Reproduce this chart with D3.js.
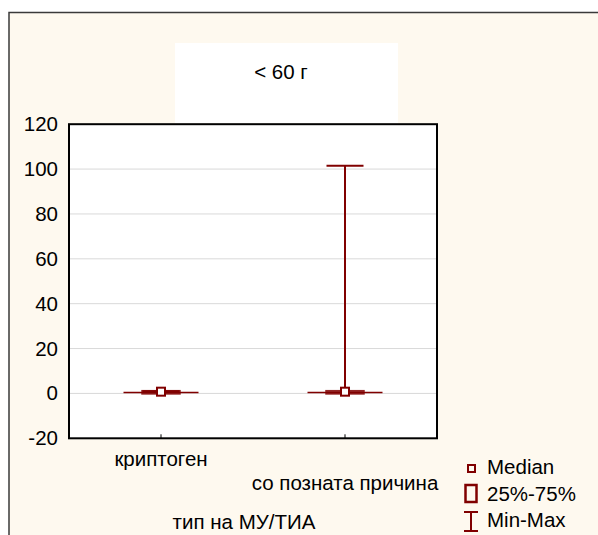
<!DOCTYPE html>
<html>
<head>
<meta charset="utf-8">
<script src="https://cdn.jsdelivr.net/npm/d3@7"></script>
<style>
  html, body { margin: 0; padding: 0; background: #ffffff; }
  svg { display: block; font-family: "Liberation Sans", Arial, sans-serif; }
</style>
</head>
<body>
<svg id="chart" width="598" height="535"></svg>
<script>
// Categories and box-plot statistics per category
const categories = ["криптоген", "со позната причина"];
const minValues    = [0, 0];
const q1Values     = [0, 0];
const medianValues = [1, 1];
const q3Values     = [1, 1];
const maxValues    = [1, 101.5];
const yTicks = [-20, 0, 20, 40, 60, 80, 100, 120];
const titleText = "< 60 г";
const xAxisTitle = "тип на МУ/ТИА";
const legendLabels = ["Median", "25%-75%", "Min-Max"];

const color = "#800000";
const fs = 20.5;
const svg = d3.select("#chart");

// Outer panel
svg.append("rect")
  .attr("x", 9).attr("y", 12.5).attr("width", 620).attr("height", 560)
  .attr("fill", "#fef9ef").attr("stroke", "#3a3a3a").attr("stroke-width", 1.5);

// Title box
svg.append("rect")
  .attr("x", 175).attr("y", 43).attr("width", 223).attr("height", 80)
  .attr("fill", "#ffffff");
svg.append("text")
  .attr("x", 281).attr("y", 79)
  .attr("text-anchor", "middle")
  .attr("font-size", fs)
  .text(titleText);

// Plot area
const plot = { left: 69, right: 437, top: 124.2, bottom: 438.3 };
svg.append("rect")
  .attr("x", plot.left).attr("y", plot.top)
  .attr("width", plot.right - plot.left).attr("height", plot.bottom - plot.top)
  .attr("fill", "#ffffff");

const x = d3.scaleBand().domain(categories).range([plot.left, plot.right]);
const y = d3.scaleLinear().domain([-20, 120]).range([plot.bottom, plot.top]);

// Horizontal gridlines
svg.append("g").selectAll("line")
  .data(yTicks.filter(t => t > -20 && t < 120))
  .join("line")
  .attr("x1", plot.left).attr("x2", plot.right)
  .attr("y1", d => y(d)).attr("y2", d => y(d))
  .attr("stroke", "#d9d9d9").attr("stroke-width", 1);

// Y axis labels
const yAxis = d3.axisLeft(y).tickValues(yTicks).tickSize(0).tickPadding(11)
  .tickFormat(d => String(d));
const yg = svg.append("g").attr("transform", `translate(${plot.left},0)`).call(yAxis);
yg.select(".domain").remove();
yg.selectAll("text")
  .attr("font-size", fs).attr("fill", "#000")
  .attr("font-family", "Liberation Sans, Arial, sans-serif");

// Bottom ticks at categories (pointing inwards)
const xAxis = d3.axisBottom(x).tickSize(-4).tickFormat("");
const xg = svg.append("g").attr("transform", `translate(0,${plot.bottom})`).call(xAxis);
xg.select(".domain").remove();
xg.selectAll("line").attr("stroke", "#000").attr("stroke-width", 1);

// Category labels, staggered
svg.append("g").selectAll("text")
  .data(categories)
  .join("text")
  .attr("x", d => x(d) + x.bandwidth() / 2)
  .attr("y", (d, i) => 466 + i * 24)
  .attr("text-anchor", "middle")
  .attr("font-size", fs)
  .text(d => d);

// Axis title
svg.append("text")
  .attr("x", 244).attr("y", 529)
  .attr("text-anchor", "middle")
  .attr("font-size", fs)
  .text(xAxisTitle);

// Plot frame
svg.append("rect")
  .attr("x", plot.left).attr("y", plot.top)
  .attr("width", plot.right - plot.left).attr("height", plot.bottom - plot.top)
  .attr("fill", "none").attr("stroke", "#000").attr("stroke-width", 2);

// Box plots
const stats = categories.map((c, i) => ({
  cat: c, min: minValues[i], q1: q1Values[i], med: medianValues[i],
  q3: q3Values[i], max: maxValues[i]
}));
const boxW = 37, capW = 37, minCapW = 75, medS = 8;
const g = svg.append("g");
stats.forEach(d => {
  const cx = x(d.cat) + x.bandwidth() / 2;
  // whisker
  g.append("line")
    .attr("x1", cx).attr("x2", cx)
    .attr("y1", y(d.min)).attr("y2", y(d.max))
    .attr("stroke", color).attr("stroke-width", 2);
  // max cap
  g.append("line")
    .attr("x1", cx - capW / 2).attr("x2", cx + capW / 2)
    .attr("y1", y(d.max)).attr("y2", y(d.max))
    .attr("stroke", color).attr("stroke-width", 2);
  // min cap
  g.append("line")
    .attr("x1", cx - minCapW / 2).attr("x2", cx + minCapW / 2)
    .attr("y1", y(d.min) - 1).attr("y2", y(d.min) - 1)
    .attr("stroke", color).attr("stroke-width", 1.5);
  // box
  g.append("rect")
    .attr("x", cx - boxW / 2).attr("width", boxW)
    .attr("y", y(d.q3)).attr("height", Math.max(1, y(d.q1) - y(d.q3)))
    .attr("fill", "none").attr("stroke", color).attr("stroke-width", 2.5)
    .attr("stroke-opacity", 0.85);
  // median marker
  g.append("rect")
    .attr("x", cx - medS / 2).attr("width", medS)
    .attr("y", y(d.med) - medS / 2 + 0.5).attr("height", medS)
    .attr("fill", "#ffffff").attr("stroke", color).attr("stroke-width", 2);
});

// Legend
const lg = svg.append("g");
lg.append("rect").attr("x", 468).attr("y", 465).attr("width", 7).attr("height", 7)
  .attr("fill", "none").attr("stroke", color).attr("stroke-width", 2);
lg.append("rect").attr("x", 465.5).attr("y", 485).attr("width", 11).attr("height", 17)
  .attr("fill", "none").attr("stroke", color).attr("stroke-width", 2.5);
lg.append("line").attr("x1", 464).attr("x2", 478).attr("y1", 512).attr("y2", 512)
  .attr("stroke", color).attr("stroke-width", 2);
lg.append("line").attr("x1", 464).attr("x2", 478).attr("y1", 531).attr("y2", 531)
  .attr("stroke", color).attr("stroke-width", 2);
lg.append("line").attr("x1", 471).attr("x2", 471).attr("y1", 512).attr("y2", 531)
  .attr("stroke", color).attr("stroke-width", 2);
lg.selectAll("text")
  .data(legendLabels)
  .join("text")
  .attr("x", 487)
  .attr("y", (d, i) => 474 + i * 26.5)
  .attr("font-size", fs)
  .text(d => d);
</script>
</body>
</html>
